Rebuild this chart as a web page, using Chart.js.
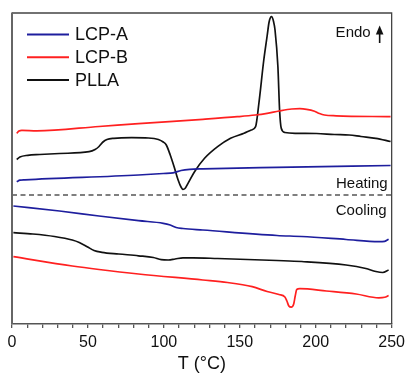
<!DOCTYPE html>
<html><head><meta charset="utf-8">
<script src="https://cdn.jsdelivr.net/npm/chart.js@4"></script>
<style>html,body{margin:0;padding:0;background:#fff}</style>
</head><body>
<canvas id="c" width="410" height="377"></canvas>
<script>
// ---------- data (arbitrary heat-flow units, offset curves) ----------
const seriesLabels = ['LCP-A', 'LCP-B', 'PLLA'];
const seriesColors = ['#1e1e9e', '#ff2020', '#111111'];

// Heating scans
const lcpAHeatT = [3.1, 5.2, 8.5, 83.3, 99.6, 106.1, 111.3, 117.0, 125.7, 174.5, 249.3];
const lcpAHeatY = [142.3, 143.8, 144.2, 149.0, 150.5, 151.2, 153.5, 154.7, 155.2, 156.7, 158.5];

const lcpBHeatT = [3.1, 4.6, 6.5, 16.3, 57.3, 83.3, 125.7, 148.4, 160.2, 168.0, 175.8, 184.2, 189.5, 194.0, 199.2, 202.5, 205.7, 213.5, 249.3];
const lcpBHeatY = [190.7, 193.0, 193.7, 193.2, 197.5, 200.4, 204.7, 207.3, 209.0, 210.7, 213.0, 215.0, 215.3, 214.7, 212.8, 210.5, 209.0, 208.2, 207.3];

const pllaHeatT = [3.1, 5.2, 10.4, 18.2, 31.3, 50.8, 54.7, 57.3, 59.9, 62.5, 67.1, 78.8, 89.8, 96.4, 99.6, 101.6, 104.2, 106.8, 109.4, 111.3, 112.6, 113.9, 115.9, 120.2, 126.8, 135.4, 143.9, 152.8, 157.6, 160.4, 162.6, 165.8, 168.0, 169.3, 170.9, 172.3, 173.2, 175.1, 176.2, 177.3, 179.7, 187.5, 200.5, 212.2, 222.0, 229.8, 239.6, 249.3];
const pllaHeatY = [164.5, 167.0, 168.7, 169.5, 170.5, 172.3, 174.5, 177.5, 182.0, 184.5, 185.7, 186.3, 186.0, 184.5, 182.0, 179.0, 169.0, 157.0, 144.0, 137.0, 134.7, 135.5, 140.7, 152.3, 165.7, 177.3, 185.7, 190.7, 194.0, 197.3, 221.0, 264.0, 288.0, 302.0, 307.3, 302.0, 294.0, 257.3, 214.0, 195.7, 191.5, 190.7, 190.5, 189.5, 189.0, 187.5, 185.7, 182.5];

// Cooling scans
const lcpACoolT = [0.9, 31.3, 57.3, 83.3, 99.6, 104.2, 108.1, 112.6, 125.7, 174.5, 190.8, 220.0, 241.5, 245.4, 248.0];
const lcpACoolY = [118.0, 113.0, 108.0, 103.3, 100.7, 99.0, 96.5, 95.5, 94.0, 88.5, 87.5, 84.5, 82.3, 82.7, 84.7];

const lcpBCoolT = [0.9, 39.7, 57.3, 83.3, 125.7, 141.9, 158.2, 168.0, 175.8, 179.7, 181.0, 182.3, 183.9, 185.5, 186.5, 187.5, 189.5, 207.0, 226.6, 241.5, 245.4, 248.0];
const lcpBCoolY = [67.3, 58.0, 54.5, 50.0, 44.0, 41.5, 37.3, 32.5, 29.5, 27.0, 23.0, 18.0, 16.8, 20.0, 28.0, 34.5, 35.3, 33.0, 30.0, 26.2, 26.7, 28.5];

const pllaCoolT = [0.9, 13.7, 28.0, 39.7, 44.3, 49.5, 54.0, 59.2, 70.3, 83.3, 93.1, 98.3, 102.9, 107.4, 112.6, 119.1, 135.4, 174.5, 190.8, 220.0, 233.0, 239.6, 244.1, 248.0];
const pllaCoolY = [91.3, 90.0, 87.5, 84.0, 81.5, 77.3, 73.5, 71.7, 70.0, 68.2, 66.5, 64.3, 64.0, 65.0, 66.2, 66.2, 65.5, 63.5, 62.5, 59.0, 55.5, 52.5, 51.5, 54.0];

const xTickValues = [0, 50, 100, 150, 200, 250];
const separatorLevel = 129;
const yRange = [0, 311];
const xTitle = 'T (°C)';
const heatingLabel = 'Heating';
const coolingLabel = 'Cooling';
const endoLabel = 'Endo';

// ---------- build ----------
const FONT = "'Liberation Sans', Arial, sans-serif";
const pts = (xs, ys) => xs.map((x, i) => ({x, y: ys[i]}));
function ds(label, idx, xs, ys, legend) {
  return {
    label, data: pts(xs, ys), borderColor: seriesColors[idx], borderWidth: 1.7,
    pointRadius: 0, fill: false, cubicInterpolationMode: 'monotone', showInLegend: legend
  };
}
const datasets = [
  ds(seriesLabels[0], 0, lcpAHeatT, lcpAHeatY, true),
  ds(seriesLabels[1], 1, lcpBHeatT, lcpBHeatY, true),
  ds(seriesLabels[2], 2, pllaHeatT, pllaHeatY, true),
  ds(seriesLabels[0], 0, lcpACoolT, lcpACoolY, false),
  ds(seriesLabels[1], 1, lcpBCoolT, lcpBCoolY, false),
  ds(seriesLabels[2], 2, pllaCoolT, pllaCoolY, false)
];

const decor = {
  id: 'decor',
  afterDatasetsDraw(chart) {
    const {ctx, chartArea: a, scales} = chart;
    const ys = scales.y;
    ctx.save();
    // separator
    const sy = ys.getPixelForValue(separatorLevel);
    ctx.strokeStyle = '#555'; ctx.lineWidth = 1.5; ctx.setLineDash([5, 3.5]);
    ctx.beginPath(); ctx.moveTo(a.left, sy); ctx.lineTo(a.right, sy); ctx.stroke();
    ctx.setLineDash([]);
    // frame
    ctx.strokeStyle = '#444'; ctx.lineWidth = 1.3;
    ctx.beginPath(); ctx.moveTo(a.left, a.top); ctx.lineTo(a.right, a.top); ctx.lineTo(a.right, a.bottom); ctx.stroke();
    ctx.strokeStyle = '#666'; ctx.lineWidth = 2;
    ctx.beginPath(); ctx.moveTo(a.left, a.top - 0.6); ctx.lineTo(a.left, a.bottom); ctx.stroke();
    // texts
    ctx.fillStyle = '#111';
    ctx.font = '15px ' + FONT; ctx.textAlign = 'right'; ctx.textBaseline = 'alphabetic';
    ctx.fillText(heatingLabel, a.right - 4, sy - 7);
    ctx.fillText(coolingLabel, a.right - 5, sy + 19.5);
    ctx.fillText(endoLabel, a.right - 21, a.top + 24);
    // arrow
    const ax = a.right - 12;
    ctx.strokeStyle = '#111'; ctx.lineWidth = 1.6;
    ctx.beginPath(); ctx.moveTo(ax, a.top + 30); ctx.lineTo(ax, a.top + 18); ctx.stroke();
    ctx.beginPath(); ctx.moveTo(ax, a.top + 12.5); ctx.lineTo(ax - 3.8, a.top + 21.5); ctx.lineTo(ax + 3.8, a.top + 21.5); ctx.closePath(); ctx.fill();
    // legend
    ctx.font = '18px ' + FONT; ctx.textAlign = 'left'; ctx.textBaseline = 'middle';
    const rows = chart.data.datasets.filter(d => d.showInLegend);
    rows.forEach((d, i) => {
      const y = a.top + 21.5 + i * 22.8;
      ctx.strokeStyle = d.borderColor; ctx.lineWidth = 2;
      ctx.beginPath(); ctx.moveTo(a.left + 15, y); ctx.lineTo(a.left + 57, y); ctx.stroke();
      ctx.fillStyle = '#111';
      ctx.fillText(d.label, a.left + 63, y + 1);
    });
    ctx.restore();
  }
};

new Chart(document.getElementById('c'), {
  type: 'line',
  data: {datasets},
  options: {
    responsive: false, animation: false, devicePixelRatio: 1,
    layout: {padding: {left: 12, right: 14, top: 13, bottom: 0}},
    plugins: {legend: {display: false}, tooltip: {enabled: false}},
    scales: {
      x: {
        type: 'linear', min: 0, max: 250, position: 'bottom',
        afterFit(s) { s.height = 53; },
        afterBuildTicks(s) {
          const t = [];
          for (let v = 0; v <= 250; v += 10) t.push({value: v});
          s.ticks = t;
        },
        ticks: {
          autoSkip: false, maxRotation: 0, padding: 5, color: '#111',
          font: {family: FONT, size: 16},
          callback: v => xTickValues.includes(v) ? String(v) : ''
        },
        grid: {drawOnChartArea: false, drawTicks: true, tickLength: 4, color: '#555', lineWidth: 1.3},
        border: {display: true, color: '#555', width: 1.5},
        title: {display: true, text: xTitle, color: '#111', font: {family: FONT, size: 18}, padding: {top: 0, bottom: 2}}
      },
      y: {display: false, min: yRange[0], max: yRange[1]}
    }
  },
  plugins: [decor]
});
</script>
</body></html>
